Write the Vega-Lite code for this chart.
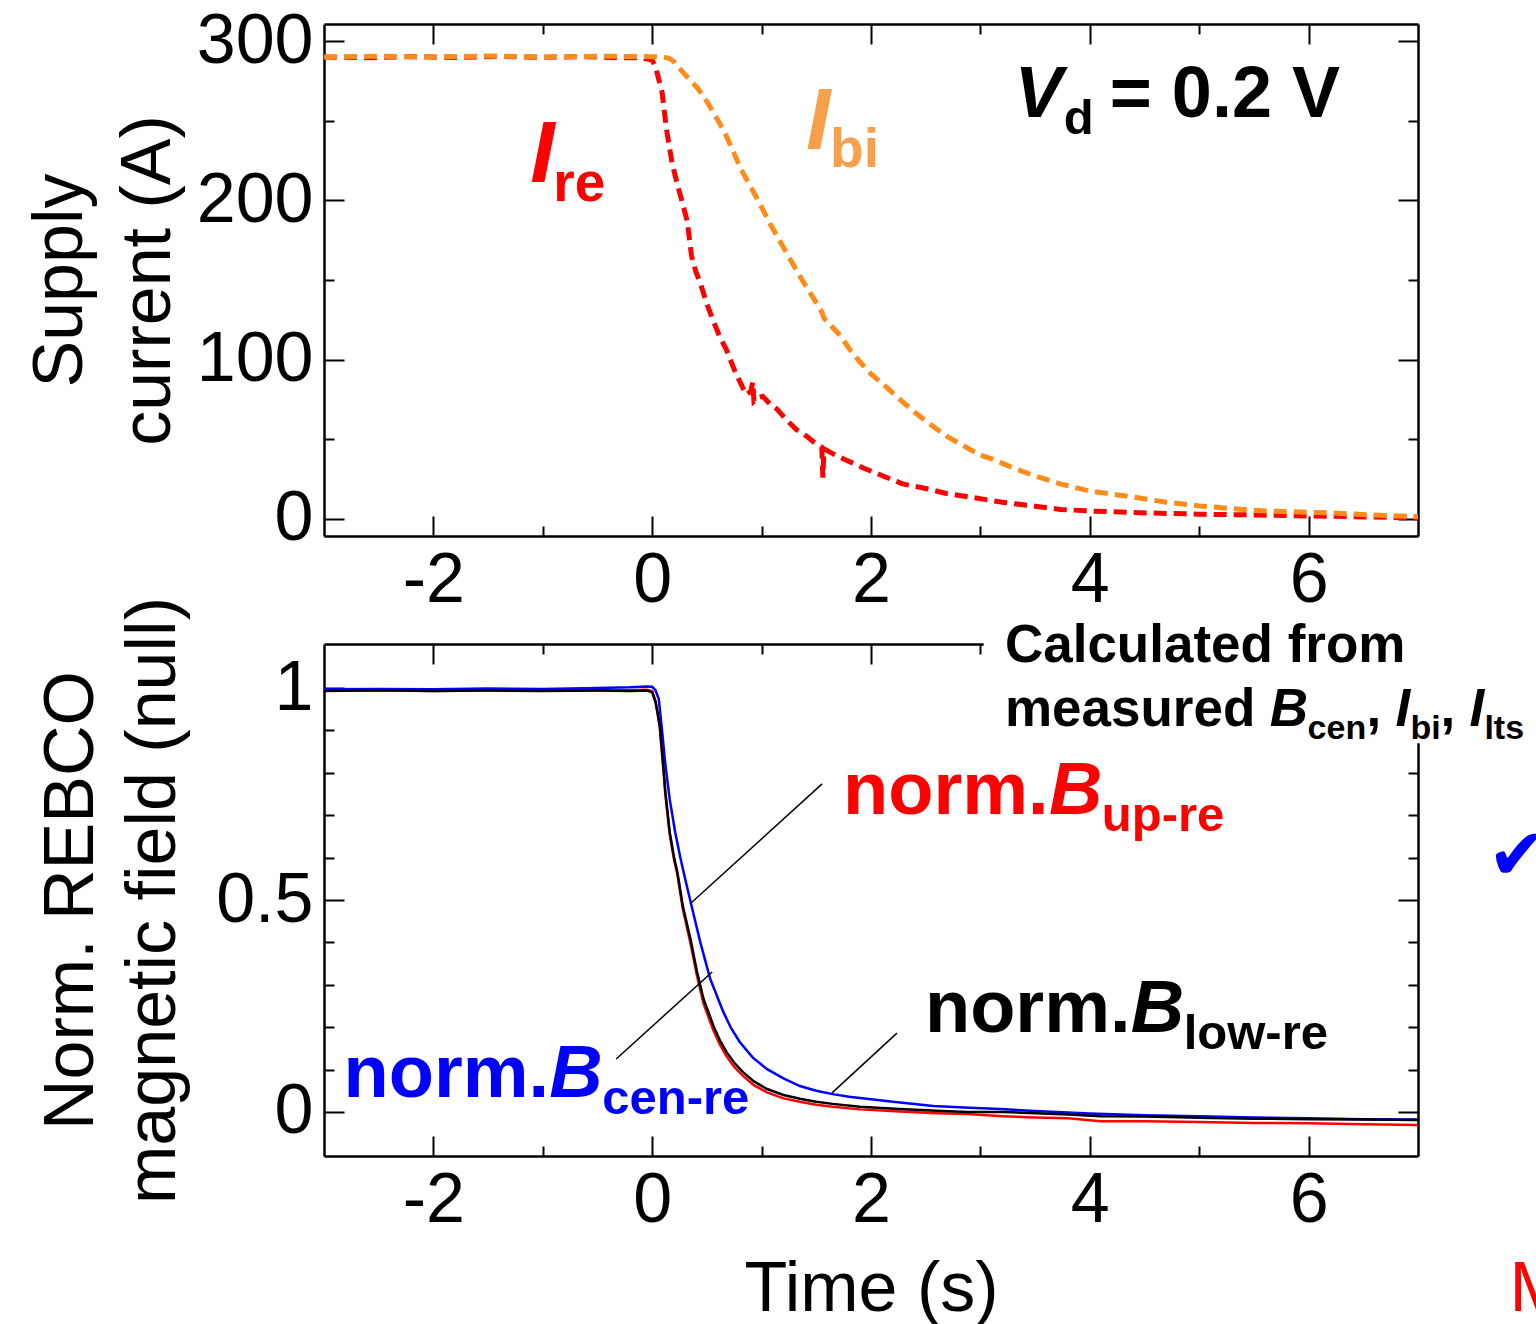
{
  "$schema": "https://vega.github.io/schema/vega-lite/v6.json",
  "padding": {"left": 25, "top": 6, "right": 0, "bottom": 0},
  "background": "white",
  "spacing": 108,
  "bounds": "flush",
  "resolve": {"scale": {"color": "independent"}},
  "config": {
    "font": "Liberation Sans",
    "view": {"stroke": null},
    "axis": {"grid": false, "domainColor": "#000", "domainWidth": 2.5, "tickColor": "#000", "tickWidth": 2, "labelFont": "Liberation Sans", "labelFontSize": 70, "labelColor": "#000", "titleFont": "Liberation Sans", "titleFontSize": 70, "titleFontWeight": "normal", "titleColor": "#000", "labelFlush": false, "labelOverlap": false},
    "text": {"font": "Liberation Sans", "align": "left", "baseline": "alphabetic"}
  },
  "vconcat": [
    {
      "width": 1094,
      "height": 512,
      "resolve": {"axis": {"x": "independent", "y": "independent"}},
      "layer": [
        {
          "data": {"values": [
            {"t": -3, "v": 290}, {"t": -2.6, "v": 289.5}, {"t": -2.2, "v": 290.3}, {"t": -1.8, "v": 289.6}, {"t": -1.4, "v": 290.4}, {"t": -1, "v": 289.8}, {"t": -0.6, "v": 290.2}, {"t": -0.3, "v": 289.5}, {"t": -0.1, "v": 289.6}, {"t": 0, "v": 288}, {"t": 0.03, "v": 284}, {"t": 0.06, "v": 276}, {"t": 0.09, "v": 268}, {"t": 0.13, "v": 245}, {"t": 0.18, "v": 224}, {"t": 0.23, "v": 210}, {"t": 0.27, "v": 200}, {"t": 0.32, "v": 187}, {"t": 0.36, "v": 165}, {"t": 0.4, "v": 155}, {"t": 0.44, "v": 148}, {"t": 0.5, "v": 135}, {"t": 0.56, "v": 124}, {"t": 0.62, "v": 114}, {"t": 0.68, "v": 106}, {"t": 0.76, "v": 92}, {"t": 0.86, "v": 78}, {"t": 0.9, "v": 80}, {"t": 0.92, "v": 86}, {"t": 0.93, "v": 74}, {"t": 0.96, "v": 76}, {"t": 1.01, "v": 77}, {"t": 1.08, "v": 72}, {"t": 1.14, "v": 69}, {"t": 1.23, "v": 62}, {"t": 1.32, "v": 56}, {"t": 1.41, "v": 52}, {"t": 1.5, "v": 47}, {"t": 1.55, "v": 45}, {"t": 1.56, "v": 26}, {"t": 1.57, "v": 44}, {"t": 1.65, "v": 41}, {"t": 1.74, "v": 38}, {"t": 1.93, "v": 32}, {"t": 2.11, "v": 27}, {"t": 2.29, "v": 22}, {"t": 2.51, "v": 19}, {"t": 2.69, "v": 16}, {"t": 2.9, "v": 13.8}, {"t": 3.2, "v": 10.5}, {"t": 3.5, "v": 8}, {"t": 3.73, "v": 6}, {"t": 4, "v": 5}, {"t": 4.4, "v": 4}, {"t": 4.7, "v": 3.5}, {"t": 5, "v": 3}, {"t": 5.5, "v": 2.5}, {"t": 6, "v": 1.9}, {"t": 6.5, "v": 1.3}, {"t": 7, "v": 0.6}
          ]},
          "mark": {"type": "line", "color": "#ff0000", "strokeWidth": 5, "strokeDash": [13, 7]},
          "encoding": {
            "x": {"field": "t", "type": "quantitative", "scale": {"domain": [-3, 7], "nice": false, "zero": false}, "axis": {"orient": "bottom", "values": [-2, 0, 2, 4, 6], "tickSize": -20, "labelPadding": 30, "labelExpr": "'' + datum.value", "title": null}},
            "y": {"field": "v", "type": "quantitative", "scale": {"domain": [-10.7, 310.7], "nice": false, "zero": false}, "axis": {"orient": "left", "values": [0, 100, 200, 300], "tickSize": -20, "labelPadding": 31, "labelExpr": "'' + datum.value", "title": ["Supply", "current (A)"], "titlePadding": 12, "titleLineHeight": 88}}
          }
        },
        {
          "data": {"values": [
            {"t": -3, "v": 290}, {"t": -2.5, "v": 290.5}, {"t": -2, "v": 290}, {"t": -1.5, "v": 290.6}, {"t": -1, "v": 290}, {"t": -0.5, "v": 290.5}, {"t": 0, "v": 290.2}, {"t": 0.1, "v": 290}, {"t": 0.16, "v": 289}, {"t": 0.2, "v": 287}, {"t": 0.26, "v": 282}, {"t": 0.34, "v": 276}, {"t": 0.42, "v": 270}, {"t": 0.5, "v": 262}, {"t": 0.56, "v": 255}, {"t": 0.62, "v": 248}, {"t": 0.68, "v": 240}, {"t": 0.74, "v": 231}, {"t": 0.8, "v": 221}, {"t": 0.88, "v": 211}, {"t": 0.96, "v": 201}, {"t": 1.08, "v": 185}, {"t": 1.17, "v": 174}, {"t": 1.27, "v": 162}, {"t": 1.37, "v": 150}, {"t": 1.47, "v": 139}, {"t": 1.55, "v": 130}, {"t": 1.57, "v": 126}, {"t": 1.64, "v": 121}, {"t": 1.72, "v": 115}, {"t": 1.81, "v": 106}, {"t": 1.9, "v": 98.5}, {"t": 2, "v": 91}, {"t": 2.11, "v": 84.7}, {"t": 2.2, "v": 79}, {"t": 2.29, "v": 73.4}, {"t": 2.4, "v": 67}, {"t": 2.51, "v": 61}, {"t": 2.69, "v": 52}, {"t": 2.87, "v": 45}, {"t": 3, "v": 40}, {"t": 3.11, "v": 37.6}, {"t": 3.3, "v": 32}, {"t": 3.5, "v": 27}, {"t": 3.73, "v": 22}, {"t": 4, "v": 17.5}, {"t": 4.39, "v": 13.8}, {"t": 4.7, "v": 10.5}, {"t": 5, "v": 8.2}, {"t": 5.3, "v": 6.5}, {"t": 5.6, "v": 5}, {"t": 6.2, "v": 3.8}, {"t": 6.5, "v": 2.8}, {"t": 6.83, "v": 1.9}, {"t": 7, "v": 1.5}
          ]},
          "mark": {"type": "line", "color": "#ff8c1a", "strokeWidth": 5, "strokeDash": [13, 7]},
          "encoding": {
            "x": {"field": "t", "type": "quantitative", "scale": {"domain": [-3, 7], "nice": false, "zero": false}, "axis": {"orient": "top", "values": [-2, 0, 2, 4, 6], "tickSize": -20, "labels": false, "title": null}},
            "y": {"field": "v", "type": "quantitative", "scale": {"domain": [-10.7, 310.7], "nice": false, "zero": false}, "axis": {"orient": "right", "values": [0, 100, 200, 300], "tickSize": -20, "labels": false, "title": null}}
          }
        },
        {
          "data": {"values": [
            {"x": -1.114, "y": 211.4, "text": "I", "who": "re"},
            {"x": 1.406, "y": 232, "text": "I", "who": "bi"}
          ]},
          "mark": {"type": "text", "fontSize": 88, "fontWeight": "bold", "fontStyle": "italic"},
          "encoding": {
            "x": {"field": "x", "type": "quantitative", "scale": {"domain": [-3, 7], "nice": false, "zero": false}, "axis": {"orient": "bottom", "values": [-1, 1, 3, 5], "tickSize": -10, "labels": false, "domain": false, "title": null}},
            "y": {"field": "y", "type": "quantitative", "scale": {"domain": [-10.7, 310.7], "nice": false, "zero": false}, "axis": {"orient": "left", "values": [50, 150, 250], "tickSize": -10, "labels": false, "domain": false, "title": null}},
            "text": {"field": "text"},
            "color": {"field": "who", "type": "nominal", "scale": {"domain": ["re", "bi", "vd"], "range": ["#ff0000", "#f7a04b", "#000000"]}, "legend": null}
          }
        },
        {
          "data": {"values": [
            {"x": -0.904, "y": 199.5, "text": "re", "who": "re"},
            {"x": 1.626, "y": 220.8, "text": "bi", "who": "bi"}
          ]},
          "mark": {"type": "text", "fontSize": 55, "fontWeight": "bold"},
          "encoding": {
            "x": {"field": "x", "type": "quantitative", "scale": {"domain": [-3, 7], "nice": false, "zero": false}, "axis": {"orient": "top", "values": [-1, 1, 3, 5], "tickSize": -10, "labels": false, "domain": false, "title": null}},
            "y": {"field": "y", "type": "quantitative", "scale": {"domain": [-10.7, 310.7], "nice": false, "zero": false}, "axis": {"orient": "right", "values": [50, 150, 250], "tickSize": -10, "labels": false, "domain": false, "title": null}},
            "text": {"field": "text"},
            "color": {"field": "who", "type": "nominal", "scale": {"domain": ["re", "bi", "vd"], "range": ["#ff0000", "#f7a04b", "#000000"]}, "legend": null}
          }
        },
        {
          "data": {"values": [{"x": 3.315, "y": 252.2, "text": "V", "who": "vd"}]},
          "mark": {"type": "text", "fontSize": 72, "fontWeight": "bold", "fontStyle": "italic"},
          "encoding": {
            "x": {"field": "x", "type": "quantitative", "scale": {"domain": [-3, 7], "nice": false, "zero": false}, "axis": null},
            "y": {"field": "y", "type": "quantitative", "scale": {"domain": [-10.7, 310.7], "nice": false, "zero": false}, "axis": null},
            "text": {"field": "text"},
            "color": {"field": "who", "type": "nominal", "scale": {"domain": ["re", "bi", "vd"], "range": ["#ff0000", "#f7a04b", "#000000"]}, "legend": null}
          }
        },
        {
          "data": {"values": [{"x": 3.763, "y": 241.5, "text": "d", "who": "vd"}]},
          "mark": {"type": "text", "fontSize": 49, "fontWeight": "bold"},
          "encoding": {
            "x": {"field": "x", "type": "quantitative", "scale": {"domain": [-3, 7], "nice": false, "zero": false}, "axis": null},
            "y": {"field": "y", "type": "quantitative", "scale": {"domain": [-10.7, 310.7], "nice": false, "zero": false}, "axis": null},
            "text": {"field": "text"},
            "color": {"field": "who", "type": "nominal", "scale": {"domain": ["re", "bi", "vd"], "range": ["#ff0000", "#f7a04b", "#000000"]}, "legend": null}
          }
        },
        {
          "data": {"values": [{"x": 4.183, "y": 252.2, "text": "= 0.2 V", "who": "vd"}]},
          "mark": {"type": "text", "fontSize": 72, "fontWeight": "bold"},
          "encoding": {
            "x": {"field": "x", "type": "quantitative", "scale": {"domain": [-3, 7], "nice": false, "zero": false}, "axis": null},
            "y": {"field": "y", "type": "quantitative", "scale": {"domain": [-10.7, 310.7], "nice": false, "zero": false}, "axis": null},
            "text": {"field": "text"},
            "color": {"field": "who", "type": "nominal", "scale": {"domain": ["re", "bi", "vd"], "range": ["#ff0000", "#f7a04b", "#000000"]}, "legend": null}
          }
        }
      ]
    },
    {
      "width": 1094,
      "height": 512,
      "resolve": {"axis": {"x": "independent", "y": "independent"}},
      "layer": [
        {
          "data": {"values": [
            {"t": -3, "v": 0.994}, {"t": -2.5, "v": 0.995}, {"t": -2, "v": 0.993}, {"t": -1.5, "v": 0.995}, {"t": -1, "v": 0.994}, {"t": -0.5, "v": 0.995}, {"t": -0.2, "v": 0.995}, {"t": -0.05, "v": 0.996}, {"t": 0, "v": 0.993}, {"t": 0.03, "v": 0.97}, {"t": 0.05, "v": 0.94}, {"t": 0.07, "v": 0.905}, {"t": 0.1, "v": 0.815}, {"t": 0.12, "v": 0.75}, {"t": 0.16, "v": 0.655}, {"t": 0.2, "v": 0.595}, {"t": 0.23, "v": 0.56}, {"t": 0.28, "v": 0.478}, {"t": 0.35, "v": 0.398}, {"t": 0.41, "v": 0.32}, {"t": 0.47, "v": 0.255}, {"t": 0.56, "v": 0.192}, {"t": 0.62, "v": 0.158}, {"t": 0.68, "v": 0.131}, {"t": 0.75, "v": 0.106}, {"t": 0.83, "v": 0.085}, {"t": 0.93, "v": 0.063}, {"t": 1.05, "v": 0.046}, {"t": 1.2, "v": 0.032}, {"t": 1.35, "v": 0.024}, {"t": 1.5, "v": 0.017}, {"t": 1.65, "v": 0.012}, {"t": 1.9, "v": 0.006}, {"t": 2.26, "v": 0.001}, {"t": 2.6, "v": -0.003}, {"t": 2.88, "v": -0.005}, {"t": 3.2, "v": -0.01}, {"t": 3.5, "v": -0.013}, {"t": 3.8, "v": -0.015}, {"t": 4.1, "v": -0.022}, {"t": 4.5, "v": -0.022}, {"t": 5, "v": -0.024}, {"t": 5.5, "v": -0.026}, {"t": 6, "v": -0.027}, {"t": 6.5, "v": -0.029}, {"t": 7, "v": -0.031}
          ]},
          "mark": {"type": "line", "color": "#ff0000", "strokeWidth": 2.5},
          "encoding": {
            "x": {"field": "t", "type": "quantitative", "scale": {"domain": [-3, 7], "nice": false, "zero": false}, "axis": {"orient": "bottom", "values": [-2, 0, 2, 4, 6], "tickSize": -20, "labelPadding": 30, "labelExpr": "'' + datum.value", "title": "Time (s)", "titlePadding": 20}},
            "y": {"field": "v", "type": "quantitative", "scale": {"domain": [-0.104, 1.104], "nice": false, "zero": false}, "axis": {"orient": "left", "values": [0, 0.5, 1], "tickSize": -20, "labelPadding": 31, "labelExpr": "'' + datum.value", "title": ["Norm. REBCO", "magnetic field (null)"], "titlePadding": 26, "titleLineHeight": 82}}
          }
        },
        {
          "data": {"values": [
            {"t": -3, "v": 0.997}, {"t": -2.5, "v": 0.998}, {"t": -2, "v": 0.997}, {"t": -1.5, "v": 0.999}, {"t": -1, "v": 0.998}, {"t": -0.5, "v": 1.0}, {"t": -0.2, "v": 1.002}, {"t": -0.05, "v": 1.004}, {"t": 0, "v": 1.003}, {"t": 0.03, "v": 0.995}, {"t": 0.06, "v": 0.974}, {"t": 0.09, "v": 0.9}, {"t": 0.12, "v": 0.82}, {"t": 0.16, "v": 0.738}, {"t": 0.21, "v": 0.66}, {"t": 0.26, "v": 0.597}, {"t": 0.31, "v": 0.54}, {"t": 0.36, "v": 0.486}, {"t": 0.44, "v": 0.4}, {"t": 0.53, "v": 0.314}, {"t": 0.65, "v": 0.236}, {"t": 0.72, "v": 0.198}, {"t": 0.8, "v": 0.165}, {"t": 0.92, "v": 0.128}, {"t": 1.05, "v": 0.101}, {"t": 1.2, "v": 0.079}, {"t": 1.35, "v": 0.061}, {"t": 1.5, "v": 0.05}, {"t": 1.65, "v": 0.042}, {"t": 1.8, "v": 0.036}, {"t": 1.96, "v": 0.031}, {"t": 2.2, "v": 0.024}, {"t": 2.57, "v": 0.014}, {"t": 2.9, "v": 0.01}, {"t": 3.18, "v": 0.007}, {"t": 3.5, "v": 0.002}, {"t": 4, "v": -0.004}, {"t": 4.5, "v": -0.008}, {"t": 5, "v": -0.01}, {"t": 5.5, "v": -0.013}, {"t": 6, "v": -0.015}, {"t": 6.5, "v": -0.017}, {"t": 7, "v": -0.018}
          ]},
          "mark": {"type": "line", "color": "#0000ff", "strokeWidth": 2.5},
          "encoding": {
            "x": {"field": "t", "type": "quantitative", "scale": {"domain": [-3, 7], "nice": false, "zero": false}, "axis": {"orient": "top", "values": [-2, 0, 2, 4, 6], "tickSize": -20, "labels": false, "title": null}},
            "y": {"field": "v", "type": "quantitative", "scale": {"domain": [-0.104, 1.104], "nice": false, "zero": false}, "axis": {"orient": "right", "values": [0, 0.5, 1], "tickSize": -20, "labels": false, "title": null}}
          }
        },
        {
          "data": {"values": [
            {"t": -3, "v": 0.993}, {"t": -2.5, "v": 0.995}, {"t": -2, "v": 0.993}, {"t": -1.5, "v": 0.994}, {"t": -1, "v": 0.993}, {"t": -0.5, "v": 0.994}, {"t": -0.2, "v": 0.993}, {"t": -0.05, "v": 0.994}, {"t": 0, "v": 0.99}, {"t": 0.03, "v": 0.967}, {"t": 0.05, "v": 0.94}, {"t": 0.07, "v": 0.91}, {"t": 0.1, "v": 0.82}, {"t": 0.12, "v": 0.755}, {"t": 0.16, "v": 0.66}, {"t": 0.2, "v": 0.6}, {"t": 0.23, "v": 0.566}, {"t": 0.28, "v": 0.486}, {"t": 0.35, "v": 0.408}, {"t": 0.41, "v": 0.33}, {"t": 0.47, "v": 0.266}, {"t": 0.56, "v": 0.203}, {"t": 0.62, "v": 0.168}, {"t": 0.68, "v": 0.141}, {"t": 0.75, "v": 0.116}, {"t": 0.83, "v": 0.094}, {"t": 0.93, "v": 0.072}, {"t": 1.05, "v": 0.054}, {"t": 1.2, "v": 0.04}, {"t": 1.35, "v": 0.031}, {"t": 1.5, "v": 0.024}, {"t": 1.65, "v": 0.019}, {"t": 1.9, "v": 0.012}, {"t": 2.26, "v": 0.007}, {"t": 2.6, "v": 0.003}, {"t": 2.88, "v": 0.0}, {"t": 3.2, "v": 0.0}, {"t": 3.5, "v": -0.003}, {"t": 3.8, "v": -0.006}, {"t": 4.1, "v": -0.01}, {"t": 4.5, "v": -0.011}, {"t": 5, "v": -0.014}, {"t": 5.5, "v": -0.016}, {"t": 6, "v": -0.017}, {"t": 6.5, "v": -0.018}, {"t": 7, "v": -0.019}
          ]},
          "mark": {"type": "line", "color": "#000000", "strokeWidth": 2.5},
          "encoding": {
            "x": {"field": "t", "type": "quantitative", "scale": {"domain": [-3, 7], "nice": false, "zero": false}, "axis": {"orient": "bottom", "values": [-1, 1, 3, 5], "tickSize": -10, "labels": false, "domain": false, "title": null}},
            "y": {"field": "v", "type": "quantitative", "scale": {"domain": [-0.104, 1.104], "nice": false, "zero": false}, "axis": {"orient": "left", "values": [0.1, 0.2, 0.3, 0.4, 0.6, 0.7, 0.8, 0.9], "tickSize": -10, "labels": false, "domain": false, "title": null}}
          }
        },
        {
          "data": {"values": [
            {"x": 1.553, "y": 0.774, "x2": 0.347, "y2": 0.491},
            {"x": 0.548, "y": 0.33, "x2": -0.329, "y2": 0.125},
            {"x": 2.237, "y": 0.186, "x2": 1.644, "y2": 0.045}
          ]},
          "mark": {"type": "rule", "color": "#000000", "strokeWidth": 1.5},
          "encoding": {
            "x": {"field": "x", "type": "quantitative", "scale": {"domain": [-3, 7], "nice": false, "zero": false}, "axis": {"orient": "top", "values": [-1, 1, 3, 5], "tickSize": -10, "labels": false, "domain": false, "title": null}},
            "y": {"field": "y", "type": "quantitative", "scale": {"domain": [-0.104, 1.104], "nice": false, "zero": false}, "axis": {"orient": "right", "values": [0.1, 0.2, 0.3, 0.4, 0.6, 0.7, 0.8, 0.9], "tickSize": -10, "labels": false, "domain": false, "title": null}},
            "x2": {"field": "x2"},
            "y2": {"field": "y2"}
          }
        },
        {
          "data": {"values": [{"x": 3.03, "x2": 8.0, "y": 0.87, "y2": 1.15}]},
          "mark": {"type": "rect", "color": "#ffffff"},
          "encoding": {
            "x": {"field": "x", "type": "quantitative", "scale": {"domain": [-3, 7], "nice": false, "zero": false}, "axis": null},
            "y": {"field": "y", "type": "quantitative", "scale": {"domain": [-0.104, 1.104], "nice": false, "zero": false}, "axis": null},
            "x2": {"field": "x2"},
            "y2": {"field": "y2"}
          }
        },
        {
          "data": {"values": [
            {"x": 1.744, "y": 0.703, "text": "norm.", "lab": "up"},
            {"x": 2.493, "y": 0.189, "text": "norm.", "lab": "low"},
            {"x": -2.822, "y": 0.035, "text": "norm.", "lab": "cen"}
          ]},
          "mark": {"type": "text", "fontSize": 74, "fontWeight": "bold"},
          "encoding": {
            "x": {"field": "x", "type": "quantitative", "scale": {"domain": [-3, 7], "nice": false, "zero": false}, "axis": null},
            "y": {"field": "y", "type": "quantitative", "scale": {"domain": [-0.104, 1.104], "nice": false, "zero": false}, "axis": null},
            "text": {"field": "text"},
            "color": {"field": "lab", "type": "nominal", "scale": {"domain": ["up", "low", "cen", "calc", "check", "slide"], "range": ["#ff0000", "#000000", "#0000ff", "#000000", "#0000ff", "#ff0000"]}, "legend": null}
          }
        },
        {
          "data": {"values": [
            {"x": 3.626, "y": 0.703, "text": "B", "lab": "up"},
            {"x": 4.374, "y": 0.189, "text": "B", "lab": "low"},
            {"x": -0.941, "y": 0.035, "text": "B", "lab": "cen"}
          ]},
          "mark": {"type": "text", "fontSize": 74, "fontWeight": "bold", "fontStyle": "italic"},
          "encoding": {
            "x": {"field": "x", "type": "quantitative", "scale": {"domain": [-3, 7], "nice": false, "zero": false}, "axis": null},
            "y": {"field": "y", "type": "quantitative", "scale": {"domain": [-0.104, 1.104], "nice": false, "zero": false}, "axis": null},
            "text": {"field": "text"},
            "color": {"field": "lab", "type": "nominal", "scale": {"domain": ["up", "low", "cen", "calc", "check", "slide"], "range": ["#ff0000", "#000000", "#0000ff", "#000000", "#0000ff", "#ff0000"]}, "legend": null}
          }
        },
        {
          "data": {"values": [
            {"x": 4.11, "y": 0.663, "text": "up-re", "lab": "up"},
            {"x": 4.858, "y": 0.149, "text": "low-re", "lab": "low"},
            {"x": -0.457, "y": -0.005, "text": "cen-re", "lab": "cen"}
          ]},
          "mark": {"type": "text", "fontSize": 49, "fontWeight": "bold"},
          "encoding": {
            "x": {"field": "x", "type": "quantitative", "scale": {"domain": [-3, 7], "nice": false, "zero": false}, "axis": null},
            "y": {"field": "y", "type": "quantitative", "scale": {"domain": [-0.104, 1.104], "nice": false, "zero": false}, "axis": null},
            "text": {"field": "text"},
            "color": {"field": "lab", "type": "nominal", "scale": {"domain": ["up", "low", "cen", "calc", "check", "slide"], "range": ["#ff0000", "#000000", "#0000ff", "#000000", "#0000ff", "#ff0000"]}, "legend": null}
          }
        },
        {
          "data": {"values": [
            {"x": 3.224, "y": 1.061, "text": "Calculated from", "lab": "calc"},
            {"x": 3.224, "y": 0.91, "text": "measured", "lab": "calc"},
            {"x": 6.53, "y": 0.91, "text": ",", "lab": "calc"},
            {"x": 7.205, "y": 0.91, "text": ",", "lab": "calc"}
          ]},
          "mark": {"type": "text", "fontSize": 53, "fontWeight": "bold"},
          "encoding": {
            "x": {"field": "x", "type": "quantitative", "scale": {"domain": [-3, 7], "nice": false, "zero": false}, "axis": null},
            "y": {"field": "y", "type": "quantitative", "scale": {"domain": [-0.104, 1.104], "nice": false, "zero": false}, "axis": null},
            "text": {"field": "text"},
            "color": {"field": "lab", "type": "nominal", "scale": {"domain": ["up", "low", "cen", "calc", "check", "slide"], "range": ["#ff0000", "#000000", "#0000ff", "#000000", "#0000ff", "#ff0000"]}, "legend": null}
          }
        },
        {
          "data": {"values": [
            {"x": 5.644, "y": 0.91, "text": "B", "lab": "calc"},
            {"x": 6.795, "y": 0.91, "text": "I", "lab": "calc"},
            {"x": 7.47, "y": 0.91, "text": "I", "lab": "calc"}
          ]},
          "mark": {"type": "text", "fontSize": 53, "fontWeight": "bold", "fontStyle": "italic"},
          "encoding": {
            "x": {"field": "x", "type": "quantitative", "scale": {"domain": [-3, 7], "nice": false, "zero": false}, "axis": null},
            "y": {"field": "y", "type": "quantitative", "scale": {"domain": [-0.104, 1.104], "nice": false, "zero": false}, "axis": null},
            "text": {"field": "text"},
            "color": {"field": "lab", "type": "nominal", "scale": {"domain": ["up", "low", "cen", "calc", "check", "slide"], "range": ["#ff0000", "#000000", "#0000ff", "#000000", "#0000ff", "#ff0000"]}, "legend": null}
          }
        },
        {
          "data": {"values": [
            {"x": 5.991, "y": 0.88, "text": "cen", "lab": "calc"},
            {"x": 6.932, "y": 0.88, "text": "bi", "lab": "calc"},
            {"x": 7.607, "y": 0.88, "text": "lts", "lab": "calc"}
          ]},
          "mark": {"type": "text", "fontSize": 34, "fontWeight": "bold"},
          "encoding": {
            "x": {"field": "x", "type": "quantitative", "scale": {"domain": [-3, 7], "nice": false, "zero": false}, "axis": null},
            "y": {"field": "y", "type": "quantitative", "scale": {"domain": [-0.104, 1.104], "nice": false, "zero": false}, "axis": null},
            "text": {"field": "text"},
            "color": {"field": "lab", "type": "nominal", "scale": {"domain": ["up", "low", "cen", "calc", "check", "slide"], "range": ["#ff0000", "#000000", "#0000ff", "#000000", "#0000ff", "#ff0000"]}, "legend": null}
          }
        },
        {
          "data": {"values": [{"x": 7.635, "y": 0.55, "text": "✔", "lab": "check"}]},
          "mark": {"type": "text", "fontSize": 72, "font": "DejaVu Sans"},
          "encoding": {
            "x": {"field": "x", "type": "quantitative", "scale": {"domain": [-3, 7], "nice": false, "zero": false}, "axis": null},
            "y": {"field": "y", "type": "quantitative", "scale": {"domain": [-0.104, 1.104], "nice": false, "zero": false}, "axis": null},
            "text": {"field": "text"},
            "color": {"field": "lab", "type": "nominal", "scale": {"domain": ["up", "low", "cen", "calc", "check", "slide"], "range": ["#ff0000", "#000000", "#0000ff", "#000000", "#0000ff", "#ff0000"]}, "legend": null}
          }
        },
        {
          "data": {"values": [{"x": 7.836, "y": -0.469, "text": "M", "lab": "slide"}]},
          "mark": {"type": "text", "fontSize": 70},
          "encoding": {
            "x": {"field": "x", "type": "quantitative", "scale": {"domain": [-3, 7], "nice": false, "zero": false}, "axis": null},
            "y": {"field": "y", "type": "quantitative", "scale": {"domain": [-0.104, 1.104], "nice": false, "zero": false}, "axis": null},
            "text": {"field": "text"},
            "color": {"field": "lab", "type": "nominal", "scale": {"domain": ["up", "low", "cen", "calc", "check", "slide"], "range": ["#ff0000", "#000000", "#0000ff", "#000000", "#0000ff", "#ff0000"]}, "legend": null}
          }
        }
      ]
    }
  ]
}
